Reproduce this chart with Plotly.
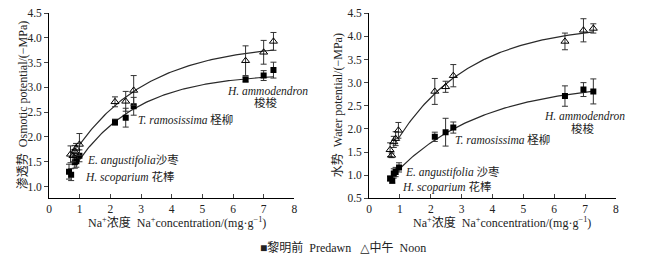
import numpy as np
import plotly.graph_objects as go

# ---------------- data ----------------
# Left panel: osmotic potential (-MPa)
osm_pre_x = [0.65, 0.72, 0.84, 0.89, 0.99, 2.15, 2.50, 2.76, 6.41, 7.00, 7.32]
osm_pre_y = [1.30, 1.24, 1.49, 1.51, 1.62, 2.30, 2.39, 2.62, 3.16, 3.24, 3.35]
osm_pre_e = [0.15, 0.12, 0.12, 0.12, 0.12, 0.06, 0.19, 0.18, 0.05, 0.10, 0.16]
osm_noon_x = [0.70, 0.78, 0.84, 0.88, 0.99, 2.15, 2.50, 2.76, 6.41, 7.00, 7.32]
osm_noon_y = [1.65, 1.62, 1.71, 1.77, 1.85, 2.71, 2.72, 2.94, 3.54, 3.71, 3.93]
osm_noon_e = [0.17, 0.12, 0.12, 0.10, 0.22, 0.10, 0.20, 0.30, 0.30, 0.24, 0.18]

# Right panel: water potential (-MPa)
wat_pre_x = [0.68, 0.75, 0.80, 0.86, 0.97, 2.13, 2.48, 2.73, 6.35, 6.95, 7.27]
wat_pre_y = [0.93, 0.88, 1.04, 1.07, 1.17, 1.83, 1.93, 2.03, 2.71, 2.85, 2.81]
wat_pre_e = [0.05, 0.05, 0.10, 0.10, 0.10, 0.10, 0.30, 0.12, 0.22, 0.15, 0.27]
wat_noon_x = [0.68, 0.73, 0.80, 0.86, 0.95, 2.13, 2.48, 2.73, 6.35, 6.95, 7.27]
wat_noon_y = [1.55, 1.43, 1.72, 1.79, 1.97, 2.81, 2.91, 3.15, 3.89, 4.13, 4.17]
wat_noon_e = [0.15, 0.05, 0.12, 0.15, 0.17, 0.28, 0.12, 0.24, 0.18, 0.25, 0.10]

# Fitted curves y = a - b*exp(-c*x): (a, b, c, x_start, x_end)
fit_osm_pre = (3.29, 2.87, 0.50, 0.89, 7.32)
fit_osm_noon = (3.899, 3.119, 0.42, 0.97, 7.32)
fit_wat_pre = (3.02, 2.653, 0.35, 0.97, 7.27)
fit_wat_noon = (4.27, 3.684, 0.42, 0.93, 7.27)

x_ticks = [0, 1, 2, 3, 4, 5, 6, 7, 8]
osm_ticks = [1.0, 1.5, 2.0, 2.5, 3.0, 3.5, 4.0, 4.5]
wat_ticks = [0.5, 1.0, 1.5, 2.0, 2.5, 3.0, 3.5, 4.0, 4.5]

legend_text = "■黎明前  Predawn   △中午  Noon"
x_title = "Na<sup>+</sup>浓度  Na<sup>+</sup>concentration/(mg·g<sup>−1</sup>)"
y_title_left = "渗透势  Osmotic potential/(−MPa)"
y_title_right = "水势  Water potential/(−MPa)"

# species labels: (text, x, y, xanchor)
labels_left = [
    ("<i>H. ammodendron</i>", 7.11, 2.93, "center"),
    ("梭梭", 7.09, 2.70, "center"),
    ("<i>T. ramosissima</i> 柽柳", 2.85, 2.35, "left"),
    ("<i>E. angustifolia</i>沙枣", 1.18, 1.52, "left"),
    ("<i>H. scoparium</i> 花棒", 1.11, 1.19, "left"),
]
labels_right = [
    ("<i>H. ammodendron</i>", 6.98, 2.29, "center"),
    ("梭梭", 6.93, 2.01, "center"),
    ("<i>T. ramosissima</i> 柽柳", 2.73, 1.78, "left"),
    ("<i>E. angustifolia</i> 沙枣", 1.11, 1.07, "left"),
    ("<i>H. scoparium</i> 花棒", 1.00, 0.74, "left"),
]

FONT = "'Liberation Serif', 'Times New Roman', 'DejaVu Serif', 'Noto Sans CJK SC', serif"
W, H = 656, 266
TXT = "#222"

fig = go.Figure()


def fit_curve(p):
    a, b, c, x0, x1 = p
    xs = np.linspace(x0, x1, 120)
    return xs, a - b * np.exp(-c * xs)


def add_panel(xa, ya, pre, noon, fits):
    for p in fits:
        xs, ys = fit_curve(p)
        fig.add_trace(go.Scatter(x=xs, y=ys, mode="lines", xaxis=xa, yaxis=ya,
                                 line=dict(color="#2a2a2a", width=1.2),
                                 showlegend=False, hoverinfo="skip"))
    px, py, pe = pre
    fig.add_trace(go.Scatter(
        x=px, y=py, mode="markers", xaxis=xa, yaxis=ya, showlegend=False,
        marker=dict(symbol="square", size=6, color="black"),
        error_y=dict(type="data", array=pe, color="#333", thickness=1, width=3)))
    nx, ny, ne = noon
    fig.add_trace(go.Scatter(
        x=nx, y=ny, mode="markers", xaxis=xa, yaxis=ya, showlegend=False,
        marker=dict(symbol="triangle-up-open", size=7, color="black",
                    line=dict(width=1)),
        error_y=dict(type="data", array=ne, color="#333", thickness=1, width=3)))


add_panel("x", "y", (osm_pre_x, osm_pre_y, osm_pre_e),
          (osm_noon_x, osm_noon_y, osm_noon_e),
          [fit_osm_pre, fit_osm_noon])
add_panel("x2", "y2", (wat_pre_x, wat_pre_y, wat_pre_e),
          (wat_noon_x, wat_noon_y, wat_noon_e),
          [fit_wat_pre, fit_wat_noon])

ydom = [1 - 201.5 / H, 1 - 7.5 / H]
xaxis_common = dict(range=[0, 8], tickvals=x_ticks, ticks="inside", ticklen=4,
                    showline=True, linecolor="black", linewidth=1,
                    showgrid=False, zeroline=False,
                    tickfont=dict(family=FONT, size=11.5, color=TXT))
yaxis_common = dict(ticks="outside", ticklen=4, showline=True,
                    linecolor="black", linewidth=1, showgrid=False,
                    zeroline=False, tickformat=".1f",
                    tickfont=dict(family=FONT, size=11.5, color=TXT))

fig.update_layout(
    width=W, height=H,
    margin=dict(l=0, r=0, t=0, b=0),
    paper_bgcolor="white", plot_bgcolor="white",
    font=dict(family=FONT, size=12, color=TXT),
    xaxis=dict(domain=[46.5 / W, 294 / W], anchor="y", **xaxis_common),
    yaxis=dict(domain=ydom, anchor="x", range=[0.76, 4.5],
               tickvals=osm_ticks, **yaxis_common),
    xaxis2=dict(domain=[369.5 / W, 618.5 / W], anchor="y2", **xaxis_common),
    yaxis2=dict(domain=ydom, anchor="x2", range=[0.5, 4.5],
                tickvals=wat_ticks, **yaxis_common),
    showlegend=False,
)

ann = []
for (t, x, y, xa) in labels_left:
    ann.append(dict(text=t, x=x, y=y, xref="x", yref="y", xanchor=xa,
                    yanchor="middle", showarrow=False,
                    font=dict(family=FONT, size=11.5, color=TXT)))
for (t, x, y, xa) in labels_right:
    ann.append(dict(text=t, x=x, y=y, xref="x2", yref="y2", xanchor=xa,
                    yanchor="middle", showarrow=False,
                    font=dict(family=FONT, size=11.5, color=TXT)))
ann.append(dict(text=x_title, x=176 / W, y=1 - 227 / H, xref="paper",
                yref="paper", showarrow=False, xanchor="center",
                yanchor="middle", font=dict(family=FONT, size=12, color=TXT)))
ann.append(dict(text=x_title, x=504 / W, y=1 - 227 / H, xref="paper",
                yref="paper", showarrow=False, xanchor="center",
                yanchor="middle", font=dict(family=FONT, size=12, color=TXT)))
ann.append(dict(text=y_title_left, x=19 / W, y=1 - 104 / H, xref="paper",
                yref="paper", showarrow=False, textangle=-90,
                xanchor="center", yanchor="middle",
                font=dict(family=FONT, size=12, color=TXT)))
ann.append(dict(text=y_title_right, x=338 / W, y=1 - 104 / H, xref="paper",
                yref="paper", showarrow=False, textangle=-90,
                xanchor="center", yanchor="middle",
                font=dict(family=FONT, size=12, color=TXT)))
ann.append(dict(text=legend_text, x=343 / W, y=1 - 253 / H, xref="paper",
                yref="paper", showarrow=False, xanchor="center",
                yanchor="middle", font=dict(family=FONT, size=12, color=TXT)))
fig.update_layout(annotations=ann)

fig.write_html("out.html",
               config={"displayModeBar": False},
               post_script="document.body.style.margin='0';")
